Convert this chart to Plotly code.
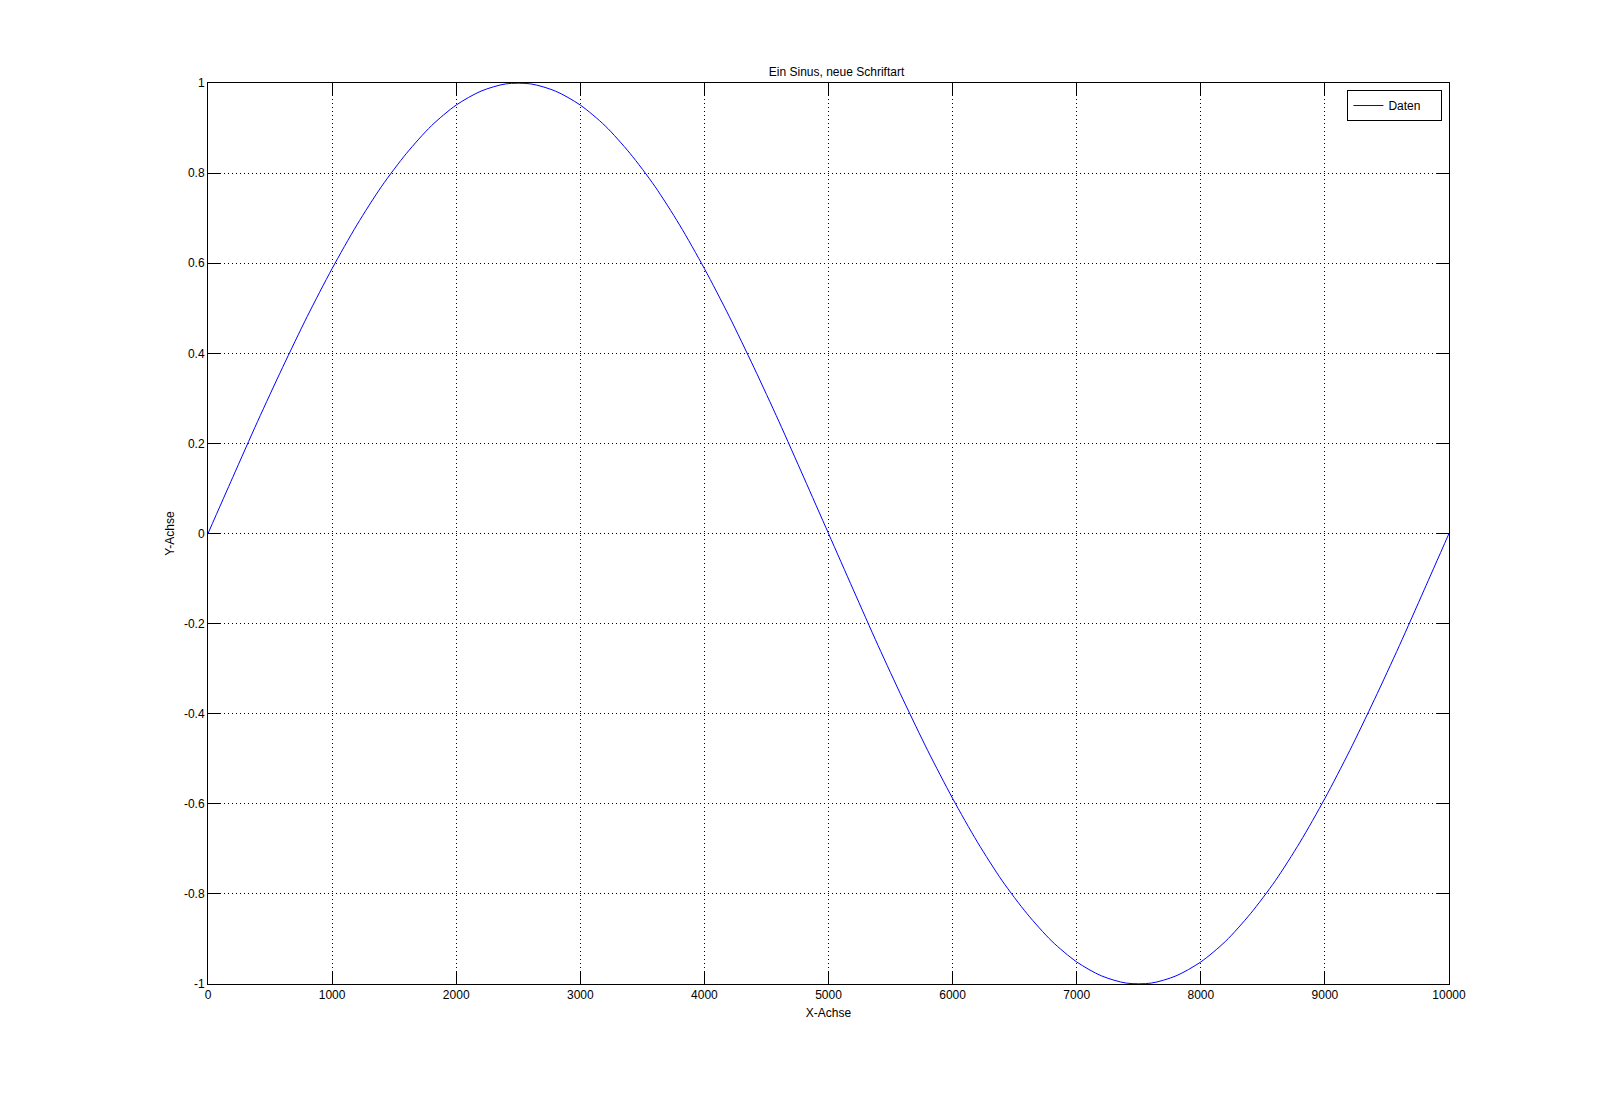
import plotly.graph_objects as go

# Values (every 200 units along x)
x_vals = [0, 200, 400, 600, 800, 1000, 1200, 1400, 1600, 1800, 2000,
          2200, 2400, 2600, 2800, 3000, 3200, 3400, 3600, 3800, 4000,
          4200, 4400, 4600, 4800, 5000, 5200, 5400, 5600, 5800, 6000,
          6200, 6400, 6600, 6800, 7000, 7200, 7400, 7600, 7800, 8000,
          8200, 8400, 8600, 8800, 9000, 9200, 9400, 9600, 9800, 10000]
y_vals = [0.000, 0.125, 0.249, 0.368, 0.482, 0.588, 0.685, 0.771, 0.844, 0.905, 0.951,
          0.982, 0.998, 0.998, 0.982, 0.951, 0.905, 0.844, 0.771, 0.685, 0.588,
          0.482, 0.368, 0.249, 0.125, 0.000, -0.125, -0.249, -0.368, -0.482, -0.588,
          -0.685, -0.771, -0.844, -0.905, -0.951, -0.982, -0.998, -0.998, -0.982, -0.951,
          -0.905, -0.844, -0.771, -0.685, -0.588, -0.482, -0.368, -0.249, -0.125, 0.000]

x_ticks = [0, 1000, 2000, 3000, 4000, 5000, 6000, 7000, 8000, 9000, 10000]
y_ticks = [-1, -0.8, -0.6, -0.4, -0.2, 0, 0.2, 0.4, 0.6, 0.8, 1]
y_tick_text = ["-1", "-0.8", "-0.6", "-0.4", "-0.2", "0", "0.2", "0.4", "0.6", "0.8", "1"]

series_name = "Daten"
title_text = "Ein Sinus, neue Schriftart"
x_title = "X-Achse"
y_title = "Y-Achse"

FONT = "Liberation Sans, Arial, Helvetica, sans-serif"

fig = go.Figure()
fig.add_trace(go.Scatter(
    x=x_vals, y=y_vals, mode="lines", name=series_name,
    line=dict(color="#0000ff", width=1, shape="spline", smoothing=0.8),
    showlegend=True,
))

axis_common = dict(
    showline=True, linecolor="black", linewidth=1, mirror="ticks",
    ticks="inside", ticklen=12, tickwidth=1, tickcolor="black",
    showgrid=True, gridcolor="black", gridwidth=1, griddash="1px,3px",
    zeroline=False, tickfont=dict(family=FONT, size=12, color="black"),
)

fig.update_layout(
    width=1601, height=1106,
    paper_bgcolor="white", plot_bgcolor="white",
    margin=dict(l=200, r=160, t=75, b=130),
    font=dict(family=FONT, size=12, color="black"),
    title=dict(text=title_text, x=0.5175, xanchor="center",
               y=1 - 63.5 / 1106, yanchor="middle", yref="container",
               font=dict(family=FONT, size=12, color="black")),
    xaxis=dict(range=[0, 10000], tickvals=x_ticks,
               ticktext=[str(v) for v in x_ticks],
               title=dict(text=x_title, standoff=7,
                          font=dict(family=FONT, size=12, color="black")),
               **axis_common),
    yaxis=dict(range=[-1, 1], tickvals=y_ticks, ticktext=y_tick_text,
               title=dict(text=y_title, standoff=6,
                          font=dict(family=FONT, size=12, color="black")),
               **axis_common),
    legend=dict(x=0.9947, y=0.9922, xanchor="right", yanchor="top",
                orientation="h", entrywidth=48, entrywidthmode="pixels",
                bgcolor="white", bordercolor="black", borderwidth=1,
                font=dict(family=FONT, size=12, color="black")),
    showlegend=True,
)

fig.write_html("out.html")
